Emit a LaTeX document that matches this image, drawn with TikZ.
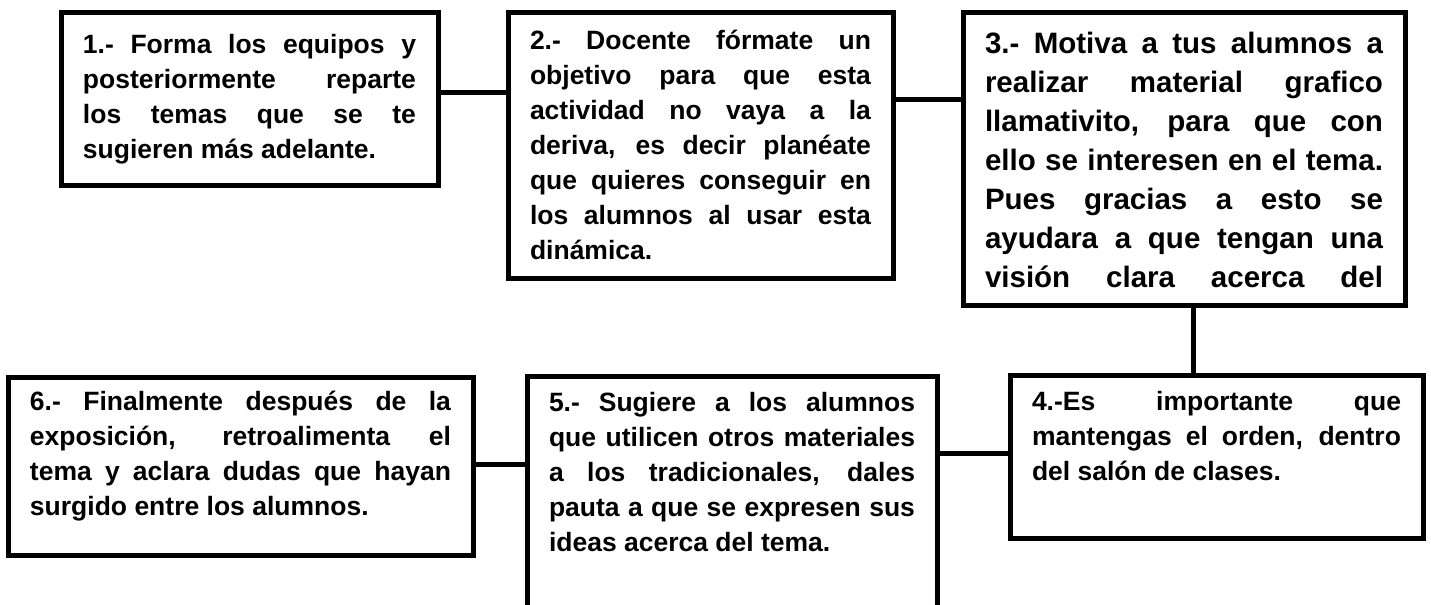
\documentclass[tikz,border=0pt]{standalone}
\usepackage{fontspec}
\setmainfont{Liberation Sans}
\usetikzlibrary{calc}
% width, height, first baseline, text
\newcommand{\boxtext}[4]{\parbox[t][#2][t]{#1}{\tolerance=10000\hbadness=10000\hyphenpenalty=10000\rule{0pt}{#3}#4}}

\begin{document}
\begin{tikzpicture}[
          x = 0.5pt, y = -0.5pt,
          tbox/.style = {draw, line width = 2.5pt, inner xsep = 11pt, inner ysep = 0pt, outer sep = 0pt,
                         anchor = north west, font = \bfseries\fontsize{13.25pt}{17.5pt}\selectfont},
          link/.style = {draw, line width = 2.5pt}
        ]
          \useasboundingbox (0,0) rectangle (1431,605);
          \clip (0,0) rectangle (1431,605);
          \fill [white] (0,0) rectangle (1431,605);
          % place boxes
          \node (b1) [tbox] at (61,12.5) {\boxtext{166.5pt}{86.5pt}{20.4pt}{1.- Forma los equipos y\linebreak posteriormente reparte\linebreak los temas que se te\linebreak sugieren más adelante.}};
          \node (b2) [tbox] at (508,12.5) {\boxtext{170.5pt}{133pt}{18.4pt}{2.- Docente fórmate un\linebreak objetivo para que esta\linebreak actividad no vaya a la\linebreak deriva, es decir planéate\linebreak que quieres conseguir en\linebreak los alumnos al usar esta\linebreak dinámica.}};
          \node (b3) [tbox, font = \bfseries\fontsize{14.75pt}{19.5pt}\selectfont] at (963,12.5) {\boxtext{199pt}{146.25pt}{20.4pt}{\parfillskip=0pt\relax 3.- Motiva a tus alumnos a\linebreak realizar material grafico\linebreak llamativito, para que con\linebreak ello se interesen en el tema.\linebreak Pues gracias a esto se\linebreak ayudara a que tengan una\linebreak visión clara acerca del}};
          \node (b4) [tbox] at (1010,375) {\boxtext{184.5pt}{81.5pt}{17.75pt}{4.-Es importante que\linebreak mantengas el orden, dentro\linebreak del salón de clases.}};
          \node (b5) [tbox] at (527,376) {\boxtext{183pt}{150pt}{17.8pt}{5.- Sugiere a los alumnos\linebreak que utilicen otros materiales\linebreak a los tradicionales, dales\linebreak pauta a que se expresen sus\linebreak ideas acerca del tema.}};
          \node (b6) [tbox] at (8,377) {\boxtext{210.5pt}{89pt}{16.5pt}{6.- Finalmente después de la\linebreak exposición, retroalimenta el\linebreak tema y aclara dudas que hayan\linebreak surgido entre los alumnos.}};
          % place links
          \coordinate (l12) at ([yshift=-39.75pt]b1.north east);
          \coordinate (l23) at ([yshift=-43.25pt]b2.north east);
          \coordinate (l34) at ([xshift=115pt]b3.south west);
          \coordinate (l45) at ([yshift=-39pt]b4.north west);
          \coordinate (l56) at ([yshift=-44pt]b5.north west);
          \draw [link] (l12) -- (l12 -| b2.west);
          \draw [link] (l23) -- (l23 -| b3.west);
          \draw [link] (l34) -- (l34 |- b4.north);
          \draw [link] (l45) -- (l45 -| b5.east);
          \draw [link] (l56) -- (l56 -| b6.east);
        \end{tikzpicture}
\end{document}
